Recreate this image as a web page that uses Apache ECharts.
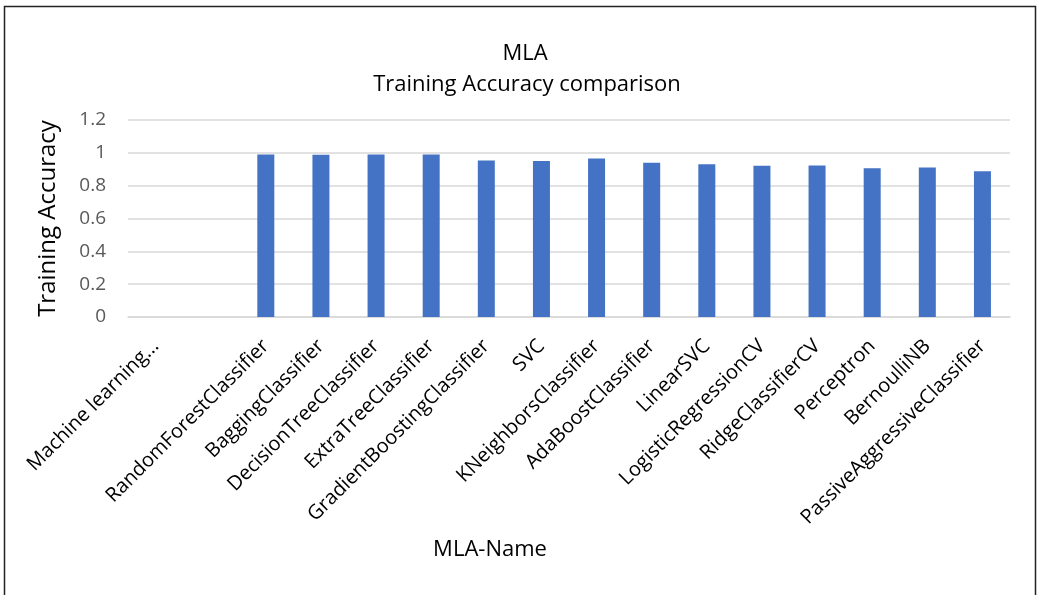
<!DOCTYPE html>
<html>
<head>
<meta charset="utf-8">
<script src="https://cdn.jsdelivr.net/npm/echarts@6/dist/echarts.min.js"></script>
<style>
	html, body { margin: 0; padding: 0; background: #fff; }
	#main { width: 1039px; height: 595px; }
</style>
</head>
<body>
<div id="main"></div>
<script>
	// 分类名称（第二项为空白分类）
	var categories = [
		'Machine learning...', '', 'RandomForestClassifier', 'BaggingClassifier', 'DecisionTreeClassifier',
		'ExtraTreeClassifier', 'GradientBoostingClassifier', 'SVC', 'KNeighborsClassifier',
		'AdaBoostClassifier', 'LinearSVC', 'LogisticRegressionCV', 'RidgeClassifierCV',
		'Perceptron', 'BernoulliNB', 'PassiveAggressiveClassifier'
	];
	// 训练准确率（前两项无数据）
	var trainAcc = [null, null, 0.990, 0.988, 0.990, 0.990, 0.953, 0.951, 0.966, 0.939, 0.931, 0.921, 0.923, 0.906, 0.911, 0.888];
	var yTicks = [0, 0.2, 0.4, 0.6, 0.8, 1, 1.2];

	var myChart = echarts.init(document.getElementById('main'));
	var font = 'Open Sans';

	var option = {
		backgroundColor: '#fff',
		animation: false,
		title: [{
			text: 'MLA',
			left: 520,
			top: 38,
			textAlign: 'center',
			textStyle: { color: '#000', fontWeight: 'normal', fontSize: 22, fontFamily: font }
		}, {
			text: 'Training Accuracy comparison',
			left: 522,
			top: 69,
			textAlign: 'center',
			textStyle: { color: '#000', fontWeight: 'normal', fontSize: 22, fontFamily: font }
		}],
		graphic: [{
			type: 'rect',
			shape: { x: 4.5, y: 6.5, width: 1031, height: 600 },
			style: { fill: 'none', stroke: '#222', lineWidth: 1.5 },
			silent: true
		}],
		grid: { left: 128, right: 29, top: 120, bottom: 278 },
		xAxis: {
			type: 'category',
			data: categories,
			name: 'MLA-Name',
			nameLocation: 'middle',
			nameGap: 222,
			nameTextStyle: { color: '#000', fontSize: 22, fontFamily: font, padding: [0, 158, 0, 0] },
			axisLine: { lineStyle: { color: '#d9d9d9', width: 1.5 } },
			axisTick: { show: false },
			axisLabel: { rotate: 45, interval: 0, color: '#000', fontSize: 20, fontFamily: font, margin: 26 }
		},
		yAxis: {
			type: 'value',
			min: yTicks[0],
			max: yTicks[yTicks.length - 1],
			interval: 0.2,
			name: 'Training Accuracy',
			nameLocation: 'middle',
			nameGap: 68,
			nameTextStyle: { color: '#000', fontSize: 24, fontFamily: font },
			axisLine: { show: false },
			axisTick: { show: false },
			axisLabel: { color: '#595959', fontSize: 19, fontFamily: font, margin: 22 },
			splitLine: { lineStyle: { color: '#d9d9d9', width: 1.5 } }
		},
		series: [{
			type: 'bar',
			data: trainAcc,
			barWidth: 17,
			itemStyle: { color: '#4472c4' }
		}]
	};

	myChart.setOption(option, true);
	window.onresize = function() {
		myChart.resize();
	}
</script>
</body>
</html>
